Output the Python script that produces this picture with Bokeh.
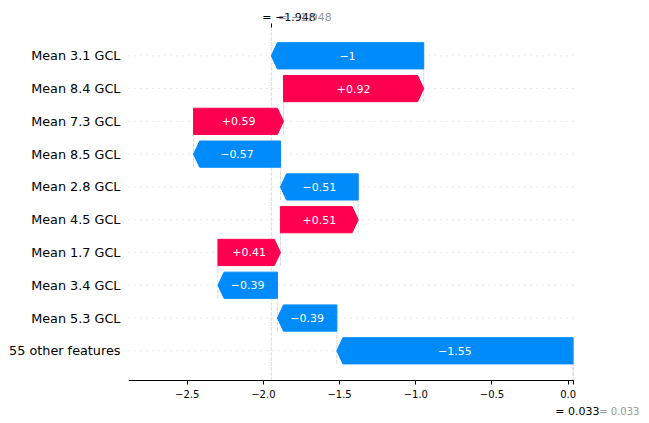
from bokeh.plotting import figure
from bokeh.models import (FixedTicker, CustomJSTickFormatter, LinearAxis,
                          ColumnDataSource, Range1d)
from bokeh.embed import file_html
from bokeh.resources import INLINE
from bokeh.core.properties import value

# ---------------- data ----------------
features = ["Mean 3.1 GCL", "Mean 8.4 GCL", "Mean 7.3 GCL", "Mean 8.5 GCL",
            "Mean 2.8 GCL", "Mean 4.5 GCL", "Mean 1.7 GCL", "Mean 3.4 GCL",
            "Mean 5.3 GCL", "55 other features"]
shap_values = [-1.0, 0.92, 0.59, -0.57, -0.51, 0.51, 0.41, -0.39, -0.39, -1.55]
base_value = 0.033
fx_value = -1.948
x_ticks = [-2.5, -2.0, -1.5, -1.0, -0.5, 0.0]

# ---------------- style / layout ----------------
RED = "#ff0051"
BLUE = "#008bfb"
FONT = "DejaVu Sans"
n = len(features)
bar_half = 0.4
head_len = 0.04
# axes box (matplotlib-like) inside a larger frame
ax_x0, ax_x1 = -2.885, 0.035
ax_y0, ax_y1 = -0.921, 9.863
# full frame
fr_x0, fr_x1 = -2.885, 0.5335
fr_y0, fr_y1 = -2.218, 10.687


def fmt_bar(v):
    s = f"{v:+.2f}".rstrip("0").rstrip(".")
    return s.replace("-", "\u2212")


def fmt_val(v):
    return f"{v:.3f}".replace("-", "\u2212")


p = figure(width=649, height=423, output_backend="svg", toolbar_location=None,
           x_range=Range1d(fr_x0, fr_x1), y_range=Range1d(fr_y0, fr_y1),
           min_border_left=128, min_border_right=0, min_border_top=0,
           min_border_bottom=0)
p.outline_line_color = None
p.grid.visible = False

rows = list(range(n))
# row guide lines
p.segment(x0=[ax_x0] * n, y0=rows, x1=[ax_x1] * n, y1=rows,
          line_color="#d4d4d4", line_width=1, line_dash="1 5", level="underlay")

# f(x) line
p.segment(x0=[fx_value], y0=[ax_y0], x1=[fx_value], y1=[ax_y1],
          line_color="#dcdcdc", line_width=1, line_dash="4 1", level="underlay")

# compute bars
xs, ys, colors, tx, ty, tt = [], [], [], [], [], []
cx, cy0, cy1 = [], [], []
loc = fx_value
for i, v in enumerate(shap_values):
    row = n - 1 - i
    end = loc
    start = loc - v
    L = min(abs(v), head_len)
    if v >= 0:
        px = [start, end - L, end, end - L, start]
    else:
        px = [start, end + L, end, end + L, start]
    py = [row - bar_half, row - bar_half, row, row + bar_half, row + bar_half]
    xs.append(px)
    ys.append(py)
    colors.append(RED if v >= 0 else BLUE)
    tx.append((start + end) / 2)
    ty.append(row)
    tt.append(fmt_bar(v))
    cx.append(start)
    cy0.append(max(row - 1 - bar_half, ax_y0))
    cy1.append(row + bar_half)
    loc = start

# connecting lines
p.segment(x0=cx, y0=cy0, x1=cx, y1=cy1, line_color="#d8d8d8",
          line_width=1, line_dash="4 1", level="underlay")
# base value line
p.segment(x0=[base_value], y0=[ax_y0], x1=[base_value],
          y1=[ax_y0 + (ax_y1 - ax_y0) / n],
          line_color="#d8d8d8", line_width=1, line_dash="4 1", level="underlay")

src = ColumnDataSource(dict(xs=xs, ys=ys, color=colors))
p.patches("xs", "ys", source=src, fill_color="color", line_color="color",
          line_width=1)

tsrc = ColumnDataSource(dict(x=tx, y=ty, t=tt))
p.text("x", "y", text="t", source=tsrc, text_color="white",
       text_align="center", text_baseline="middle",
       text_font=value(FONT), text_font_size="11px")

# value annotations (f(x) on top, E[f(X)] at bottom)
top_y = ax_y1 + 0.32
bot_y = ax_y0 - 0.946
fx_txt = "= " + fmt_val(fx_value)
base_txt = "= " + fmt_val(base_value)
p.text(x=[fx_value], y=[top_y], text=[fx_txt], x_offset=-9,
       text_color="black", text_align="left", text_baseline="alphabetic",
       text_font=value(FONT), text_font_size="11px")
p.text(x=[fx_value], y=[top_y], text=[fx_txt], x_offset=7,
       text_color="#999999", text_align="left", text_baseline="alphabetic",
       text_font=value(FONT), text_font_size="11px")
p.text(x=[base_value], y=[bot_y], text=[base_txt], x_offset=-18,
       text_color="black", text_align="left", text_baseline="alphabetic",
       text_font=value(FONT), text_font_size="11px")
p.text(x=[base_value], y=[bot_y], text=[base_txt], x_offset=26,
       text_color="#999999", text_align="left", text_baseline="alphabetic",
       text_font=value(FONT), text_font_size="10px")

# axes
p.yaxis.ticker = FixedTicker(ticks=rows)
p.yaxis.major_label_overrides = {n - 1 - i: f for i, f in enumerate(features)}
p.yaxis.axis_line_color = None
p.yaxis.major_tick_line_color = None
p.yaxis.minor_tick_line_color = None
p.yaxis.major_tick_in = 0
p.yaxis.major_tick_out = 0
p.yaxis.major_label_standoff = 8
p.yaxis.major_label_text_font = FONT
p.yaxis.major_label_text_font_size = "12.8px"
p.yaxis.major_label_text_color = "black"

xa = p.xaxis[0]
xa.fixed_location = ax_y0
xa.bounds = (ax_x0, ax_x1)
xa.ticker = FixedTicker(ticks=x_ticks + [base_value])
xa.formatter = CustomJSTickFormatter(args=dict(base=base_value), code="""
    if (Math.abs(tick - base) < 1e-9) return '';
    return tick.toFixed(1).replace('-', '\\u2212');
""")
xa.axis_line_color = "black"
xa.axis_line_width = 1
xa.major_tick_line_color = "black"
xa.major_tick_in = 0
xa.major_tick_out = 4
xa.minor_tick_line_color = None
xa.major_label_standoff = 5
xa.major_label_text_font = FONT
xa.major_label_text_font_size = "10px"
xa.major_label_text_color = "black"

top = LinearAxis(ticker=FixedTicker(ticks=[fx_value]), fixed_location=ax_y1)
top.formatter = CustomJSTickFormatter(code="return '';")
top.axis_line_color = None
top.major_tick_line_color = "black"
top.major_tick_in = 0
top.major_tick_out = 4
top.minor_tick_line_color = None
p.add_layout(top, "above")

open("out.html", "w").write(file_html(p, INLINE))
